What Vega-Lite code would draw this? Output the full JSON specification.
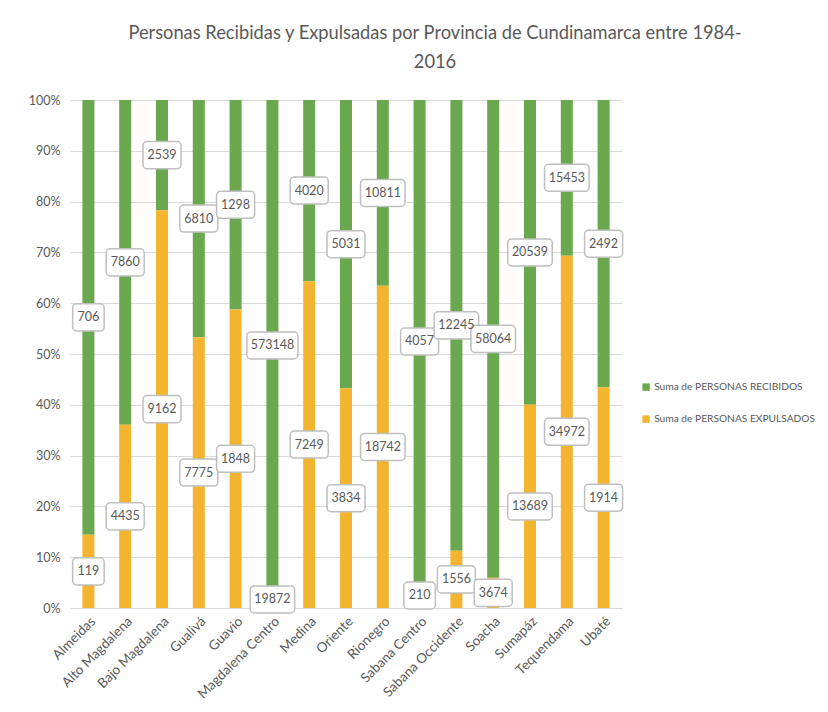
{
  "$schema": "https://vega.github.io/schema/vega-lite/v6.json",
  "width": 552,
  "height": 508,
  "autosize": {"type": "none"},
  "padding": {"left": 70, "top": 100, "right": 206, "bottom": 104},
  "background": "white",
  "title": {
    "text": ["Personas Recibidas y Expulsadas por Provincia de Cundinamarca entre 1984-", "2016"],
    "font": "Lato", "fontSize": 18.3, "fontWeight": "normal", "color": "#595959",
    "anchor": "middle", "dx": 89, "offset": 22, "lineHeight": 29
  },
  "data": {"values": [
    {"provincia": "Almeidas", "serie": "Suma de PERSONAS RECIBIDOS", "valor": 706},
    {"provincia": "Almeidas", "serie": "Suma de PERSONAS EXPULSADOS", "valor": 119},
    {"provincia": "Alto Magdalena", "serie": "Suma de PERSONAS RECIBIDOS", "valor": 7860},
    {"provincia": "Alto Magdalena", "serie": "Suma de PERSONAS EXPULSADOS", "valor": 4435},
    {"provincia": "Bajo Magdalena", "serie": "Suma de PERSONAS RECIBIDOS", "valor": 2539},
    {"provincia": "Bajo Magdalena", "serie": "Suma de PERSONAS EXPULSADOS", "valor": 9162},
    {"provincia": "Gualivá", "serie": "Suma de PERSONAS RECIBIDOS", "valor": 6810},
    {"provincia": "Gualivá", "serie": "Suma de PERSONAS EXPULSADOS", "valor": 7775},
    {"provincia": "Guavio", "serie": "Suma de PERSONAS RECIBIDOS", "valor": 1298},
    {"provincia": "Guavio", "serie": "Suma de PERSONAS EXPULSADOS", "valor": 1848},
    {"provincia": "Magdalena Centro", "serie": "Suma de PERSONAS RECIBIDOS", "valor": 573148},
    {"provincia": "Magdalena Centro", "serie": "Suma de PERSONAS EXPULSADOS", "valor": 19872},
    {"provincia": "Medina", "serie": "Suma de PERSONAS RECIBIDOS", "valor": 4020},
    {"provincia": "Medina", "serie": "Suma de PERSONAS EXPULSADOS", "valor": 7249},
    {"provincia": "Oriente", "serie": "Suma de PERSONAS RECIBIDOS", "valor": 5031},
    {"provincia": "Oriente", "serie": "Suma de PERSONAS EXPULSADOS", "valor": 3834},
    {"provincia": "Rionegro", "serie": "Suma de PERSONAS RECIBIDOS", "valor": 10811},
    {"provincia": "Rionegro", "serie": "Suma de PERSONAS EXPULSADOS", "valor": 18742},
    {"provincia": "Sabana Centro", "serie": "Suma de PERSONAS RECIBIDOS", "valor": 4057},
    {"provincia": "Sabana Centro", "serie": "Suma de PERSONAS EXPULSADOS", "valor": 210},
    {"provincia": "Sabana Occidente", "serie": "Suma de PERSONAS RECIBIDOS", "valor": 12245},
    {"provincia": "Sabana Occidente", "serie": "Suma de PERSONAS EXPULSADOS", "valor": 1556},
    {"provincia": "Soacha", "serie": "Suma de PERSONAS RECIBIDOS", "valor": 58064},
    {"provincia": "Soacha", "serie": "Suma de PERSONAS EXPULSADOS", "valor": 3674},
    {"provincia": "Sumapáz", "serie": "Suma de PERSONAS RECIBIDOS", "valor": 20539},
    {"provincia": "Sumapáz", "serie": "Suma de PERSONAS EXPULSADOS", "valor": 13689},
    {"provincia": "Tequendama", "serie": "Suma de PERSONAS RECIBIDOS", "valor": 15453},
    {"provincia": "Tequendama", "serie": "Suma de PERSONAS EXPULSADOS", "valor": 34972},
    {"provincia": "Ubaté", "serie": "Suma de PERSONAS RECIBIDOS", "valor": 2492},
    {"provincia": "Ubaté", "serie": "Suma de PERSONAS EXPULSADOS", "valor": 1914}
  ]},
  "transform": [
    {"stack": "valor", "groupby": ["provincia"], "sort": [{"field": "serie", "order": "ascending"}], "offset": "normalize", "as": ["y0", "y1"]},
    {"calculate": "(datum.y0 + datum.y1) / 2", "as": "mid"},
    {"calculate": "datum.mid - 0.0266", "as": "lo"},
    {"calculate": "datum.mid + 0.0266", "as": "hi"},
    {"calculate": "length(toString(datum.valor)) * 6.5 + 12", "as": "bw"}
  ],
  "config": {
    "view": {"stroke": null},
    "font": "Lato"
  },
  "encoding": {
    "x": {
      "field": "provincia", "type": "nominal", "sort": null,
      "scale": {"paddingInner": 0, "paddingOuter": 0},
      "axis": {
        "title": null, "labelAngle": -45, "labelFont": "Lato", "labelFontSize": 13.5,
        "labelColor": "#595959", "ticks": false, "domain": true, "domainColor": "#D9D9D9",
        "labelPadding": 6
      }
    }
  },
  "layer": [
    {
      "mark": {"type": "bar", "size": 12},
      "encoding": {
        "y": {
          "field": "y0", "type": "quantitative",
          "scale": {"domain": [0, 1], "nice": false},
          "axis": {
            "title": null, "format": ".0%", "values": [0, 0.1, 0.2, 0.3, 0.4, 0.5, 0.6, 0.7, 0.8, 0.9, 1],
            "grid": true, "gridColor": "#D9D9D9", "domain": false, "ticks": false,
            "labelFont": "Lato", "labelFontSize": 12.5, "labelColor": "#595959", "labelPadding": 10
          }
        },
        "y2": {"field": "y1"},
        "color": {
          "field": "serie", "type": "nominal",
          "scale": {
            "domain": ["Suma de PERSONAS RECIBIDOS", "Suma de PERSONAS EXPULSADOS"],
            "range": ["#6AA84F", "#F3B52F"]
          },
          "legend": {
            "title": null, "orient": "none", "legendX": 571, "legendY": 282,
            "symbolType": "square", "symbolSize": 55, "symbolStrokeWidth": 0,
            "labelFont": "Lato", "labelFontSize": 10.2, "labelColor": "#595959",
            "labelLimit": 400, "rowPadding": 21, "labelOffset": 3
          }
        }
      }
    },
    {
      "mark": {"type": "bar", "fill": "white", "stroke": "#BFBFBF", "strokeWidth": 1.5, "cornerRadius": 4},
      "encoding": {
        "y": {"field": "lo", "type": "quantitative", "title": null},
        "y2": {"field": "hi"},
        "size": {"field": "bw", "type": "quantitative", "scale": null}
      }
    },
    {
      "mark": {"type": "text", "font": "Lato", "fontSize": 12.5, "color": "#595959"},
      "encoding": {
        "y": {"field": "mid", "type": "quantitative", "title": null},
        "text": {"field": "valor", "type": "quantitative", "format": "d"}
      }
    }
  ]
}
